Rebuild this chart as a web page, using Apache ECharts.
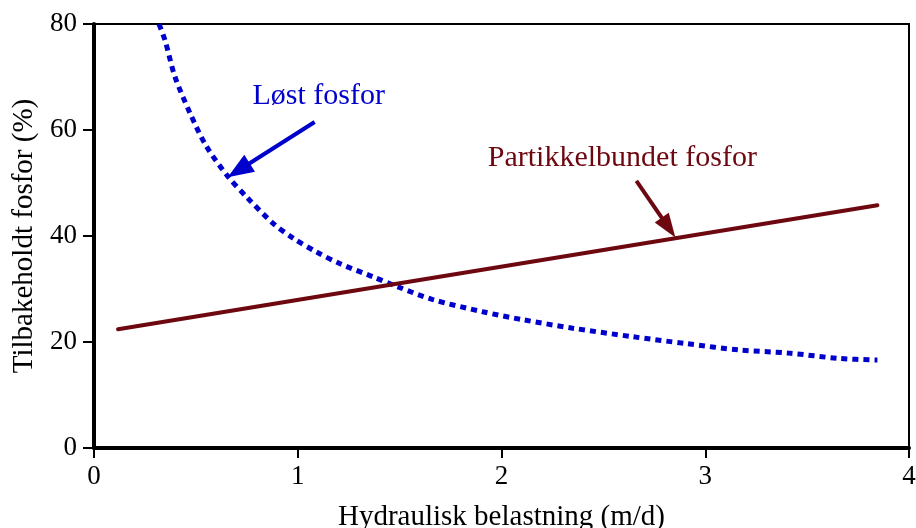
<!DOCTYPE html>
<html>
<head>
<meta charset="utf-8">
<script src="https://cdn.jsdelivr.net/npm/echarts@6/dist/echarts.min.js"></script>
<style>html,body{margin:0;padding:0;background:#fff}#c{width:916px;height:528px}</style>
</head>
<body>
<div id="c"></div>
<script>
// Data
const xTicks = [0, 1, 2, 3, 4];
const yTicks = [0, 20, 40, 60, 80];
const loestX = [0.319, 0.348, 0.397, 0.471, 0.552, 0.658, 0.748, 0.879, 0.977, 1.091, 1.206, 1.369, 1.492, 1.663, 1.908, 2.105, 2.35, 2.643, 2.905, 3.167, 3.412, 3.657, 3.845];
const loestY = [80, 77, 70.1, 63.2, 56.9, 51.2, 47.4, 42.4, 39.6, 37.0, 34.8, 32.3, 30.4, 28.0, 25.7, 24.2, 22.6, 21.0, 19.7, 18.5, 17.9, 16.9, 16.6];
const partX = [0.118, 3.845];
const partY = [22.4, 45.8];
const loestLabel = 'Løst fosfor';
const partLabel = 'Partikkelbundet fosfor';
const loestLabelPos = [1.103, 66.3];
const partLabelPos = [2.593, 54.7];
// arrow: [start], [centre of arrow head]
const loestArrow = [[1.083, 61.5], [0.71, 52.4]];
const partArrow = [[2.662, 50.4], [2.82, 41.6]];

const blue = '#0000cc';
const red = '#6e0810';
const font = '"Liberation Serif", "DejaVu Serif", serif';

const chart = echarts.init(document.getElementById('c'), null, {renderer: 'canvas'});
chart.setOption({
  animation: false,
  backgroundColor: '#fff',
  textStyle: {fontFamily: font},
  grid: {left: 94, right: 7, top: 24, bottom: 80, show: true, borderColor: '#000', borderWidth: 2, containLabel: false, outerBoundsMode: 'none'},
  xAxis: {
    type: 'value', min: xTicks[0], max: xTicks[xTicks.length - 1], interval: 1,
    name: 'Hydraulisk belastning (m/d)', nameLocation: 'middle', nameGap: 55,
    nameTextStyle: {fontFamily: font, fontSize: 29, color: '#000'},
    axisLine: {show: true, onZero: false, lineStyle: {color: '#000', width: 4}},
    axisTick: {show: true, inside: false, length: 10, lineStyle: {color: '#000', width: 2}},
    axisLabel: {fontFamily: font, fontSize: 27, color: '#000', margin: 15},
    splitLine: {show: false}
  },
  yAxis: {
    type: 'value', min: yTicks[0], max: yTicks[yTicks.length - 1], interval: 20,
    name: 'Tilbakeholdt fosfor (%)', nameLocation: 'middle', nameGap: 42,
    nameTextStyle: {fontFamily: font, fontSize: 29, color: '#000'},
    axisLine: {show: true, onZero: false, lineStyle: {color: '#000', width: 4}},
    axisTick: {show: true, inside: false, length: 11, lineStyle: {color: '#000', width: 2}},
    axisLabel: {fontFamily: font, fontSize: 27, color: '#000', margin: 17},
    splitLine: {show: false}
  },
  series: [
    {
      name: loestLabel, type: 'line', smooth: 0.3, symbol: 'none', z: 3,
      data: loestX.map((x, i) => [x, loestY[i]]),
      lineStyle: {color: blue, width: 5, type: [6, 5], cap: 'butt'},
      markLine: {
        silent: true, symbol: ['none', 'triangle'], symbolSize: [20, 26],
        lineStyle: {color: blue, width: 4, type: 'solid'},
        label: {show: false},
        data: [[{coord: loestArrow[0]}, {coord: loestArrow[1]}]]
      },
      markPoint: {
        silent: true, symbol: 'circle', symbolSize: 0,
        label: {show: true, formatter: loestLabel, fontFamily: font, fontSize: 30, color: blue, position: 'inside'},
        data: [{coord: loestLabelPos}]
      }
    },
    {
      name: partLabel, type: 'line', symbol: 'none', z: 4,
      data: partX.map((x, i) => [x, partY[i]]),
      lineStyle: {color: red, width: 4, cap: 'round'},
      markLine: {
        silent: true, symbol: ['none', 'triangle'], symbolSize: [17, 24],
        lineStyle: {color: red, width: 4, type: 'solid'},
        label: {show: false},
        data: [[{coord: partArrow[0]}, {coord: partArrow[1]}]]
      },
      markPoint: {
        silent: true, symbol: 'circle', symbolSize: 0,
        label: {show: true, formatter: partLabel, fontFamily: font, fontSize: 30, color: red, position: 'inside'},
        data: [{coord: partLabelPos}]
      }
    }
  ]
});
</script>
</body>
</html>
